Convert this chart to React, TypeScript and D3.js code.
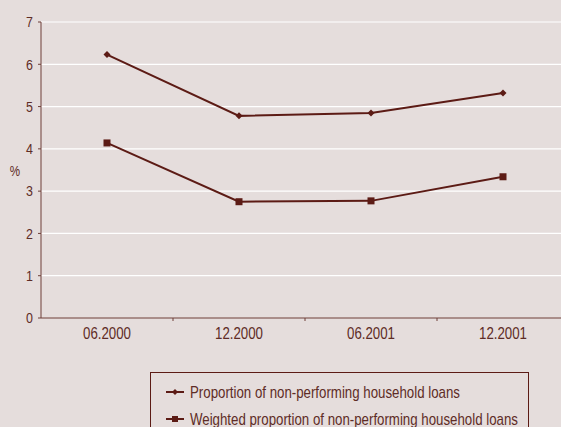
import React from "react";
import * as d3 from "d3";

const categories = ["06.2000", "12.2000", "06.2001", "12.2001"];
const proportion = [6.23, 4.78, 4.85, 5.32];
const weighted = [4.14, 2.75, 2.77, 3.34];
const yTicks = [0, 1, 2, 3, 4, 5, 6, 7];
const seriesNames = [
  "Proportion of non-performing household loans",
  "Weighted proportion of non-performing household loans",
];

const W = 561;
const H = 427;
const BG = "#e5dddc";
const LINE = "#5c1b15";
const AXIS = "#6e3f39";
const TEXT = "#5e2c26";
const FONT = "'Liberation Sans', Arial, sans-serif";
const NARROW = 0.83;

function CText(props: {
  x: number;
  y: number;
  size: number;
  anchor?: "start" | "middle" | "end";
  children: React.ReactNode;
}) {
  return (
    <text
      transform={`translate(${props.x},${props.y}) scale(${NARROW},1)`}
      textAnchor={props.anchor || "start"}
      fontSize={props.size}
      fill={TEXT}
      fontFamily={FONT}
    >
      {props.children}
    </text>
  );
}

export default function App() {
  const left = 41;
  const right = 569;
  const top = 22;
  const bottom = 318;
  const x = d3.scaleBand<string>().domain(categories).range([left, right]);
  const y = d3.scaleLinear().domain([0, 7]).range([bottom, top]);
  const cx = (c: string) => (x(c) as number) + x.bandwidth() / 2;
  const line = d3
    .line<number>()
    .x((_, i) => cx(categories[i]))
    .y((d) => y(d));

  return (
    <svg width={W} height={H} style={{ position: "absolute", left: 0, top: 0, background: BG }} fontFamily={FONT}>
      <rect x={0} y={0} width={W} height={H} fill={BG} />
      {yTicks.slice(1).map((t) => (
        <line key={t} x1={left} x2={W} y1={y(t)} y2={y(t)} stroke="#ffffff" strokeWidth={1.2} />
      ))}
      {/* y axis */}
      <line x1={left} x2={left} y1={top} y2={bottom} stroke={AXIS} strokeWidth={1} />
      {yTicks.map((t) => (
        <g key={t}>
          <line x1={left - 3} x2={left} y1={y(t)} y2={y(t)} stroke={AXIS} />
          <CText x={33} y={y(t) + 5.3} size={15} anchor="end">
            {t}
          </CText>
        </g>
      ))}
      <CText x={15} y={175.5} size={14} anchor="middle">
        %
      </CText>
      {/* x axis */}
      <line x1={left} x2={W} y1={bottom} y2={bottom} stroke={AXIS} strokeWidth={1} />
      {categories.map((c, i) =>
        i > 0 ? (
          <line key={c} x1={x(c) as number} x2={x(c) as number} y1={bottom} y2={bottom + 3} stroke={AXIS} />
        ) : null
      )}
      {categories.map((c) => (
        <CText key={c} x={cx(c)} y={339} size={16} anchor="middle">
          {c}
        </CText>
      ))}
      {/* lines */}
      <path d={line(proportion) as string} fill="none" stroke={LINE} strokeWidth={2} />
      <path d={line(weighted) as string} fill="none" stroke={LINE} strokeWidth={2} />
      {proportion.map((v, i) => (
        <path
          key={i}
          d={`M${cx(categories[i])},${y(v) - 3.5}l3.5,3.5l-3.5,3.5l-3.5,-3.5z`}
          fill={LINE}
        />
      ))}
      {weighted.map((v, i) => (
        <rect key={i} x={cx(categories[i]) - 3.5} y={y(v) - 3.5} width={7} height={7} fill={LINE} />
      ))}
      {/* legend */}
      <rect x={150.5} y={372.5} width={378} height={80} fill="none" stroke={LINE} strokeWidth={1} />
      {seriesNames.map((n, i) => {
        const ly = 392 + i * 27;
        return (
          <g key={n}>
            <line x1={166} x2={184} y1={ly} y2={ly} stroke={LINE} strokeWidth={2} />
            {i === 0 ? (
              <path d={`M175,${ly - 3}l3,3l-3,3l-3,-3z`} fill={LINE} />
            ) : (
              <rect x={172} y={ly - 3} width={6} height={6} fill={LINE} />
            )}
            <CText x={190} y={ly + 5.5} size={16}>
              {n}
            </CText>
          </g>
        );
      })}
    </svg>
  );
}
